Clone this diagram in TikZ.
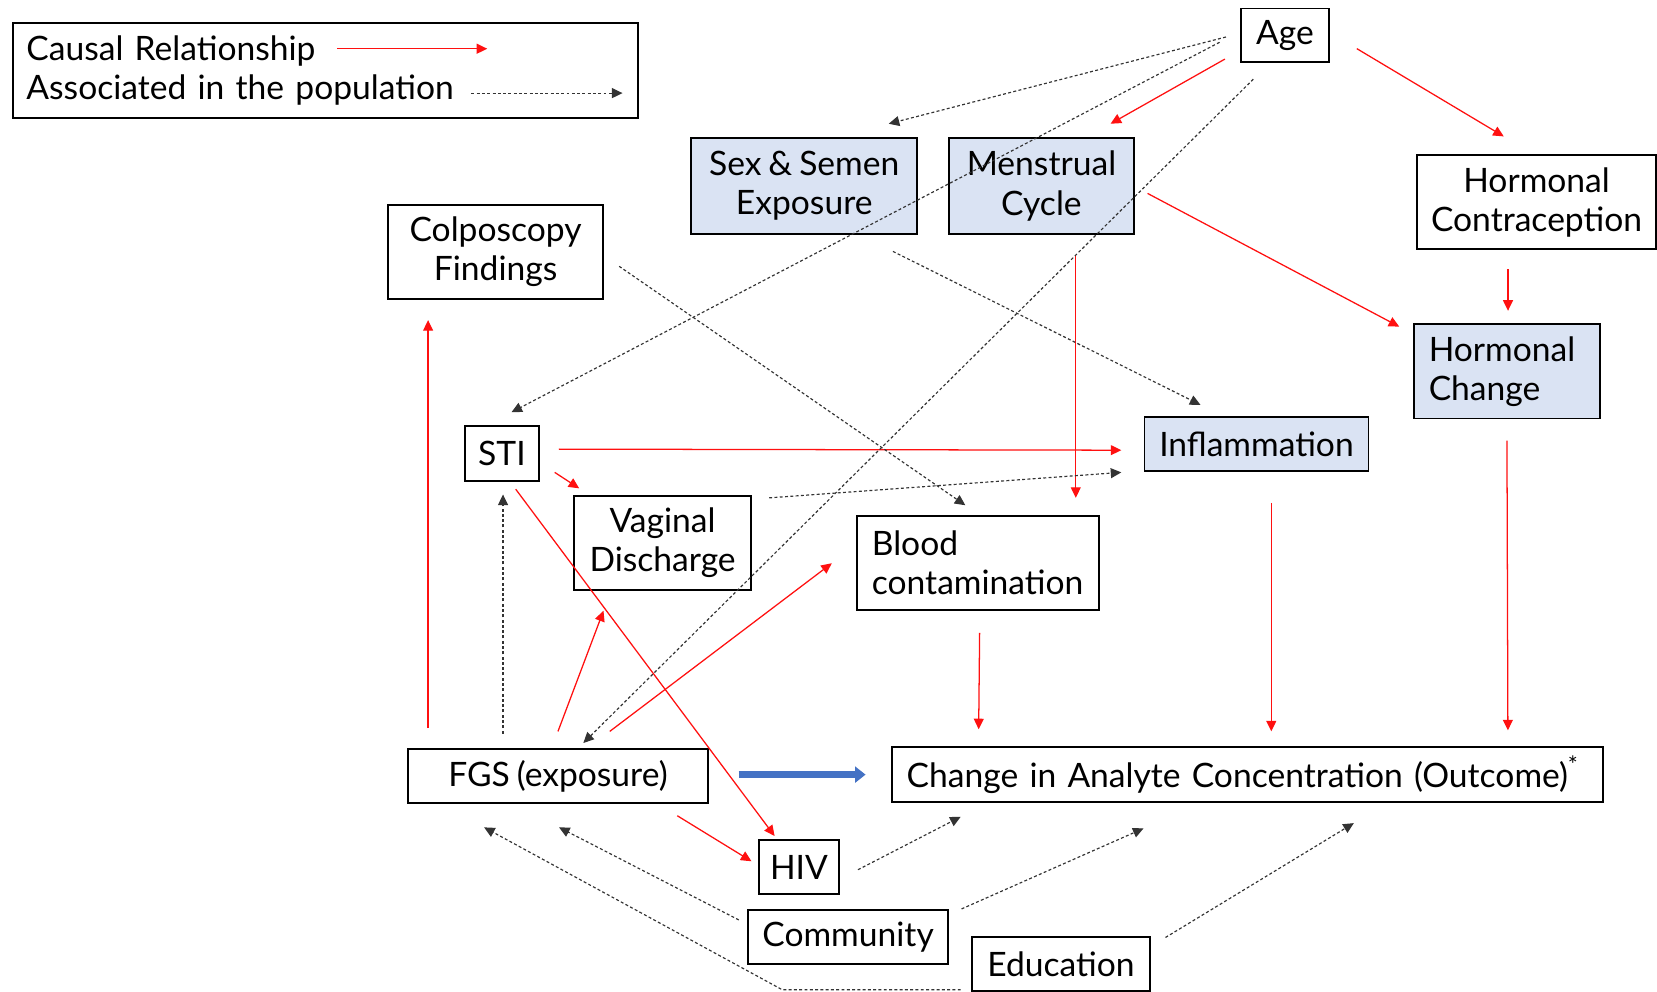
\documentclass[tikz,border=0pt]{standalone}
\usepackage{fontspec}
\setmainfont{Lato}[WordSpace=0.8]
\usetikzlibrary{arrows.meta}
\definecolor{boxblue}{HTML}{DAE3F3}
\definecolor{arrowblue}{HTML}{4472C4}
\definecolor{causalred}{HTML}{FF1010}
\tikzset{
  box/.style={draw=black, line width=0.9pt, inner sep=0pt, align=center,
    font=\fontsize{15.9}{18.5}\selectfont},
  bluebox/.style={box, fill=boxblue},
  causal/.style={draw=causalred, line width=0.6pt,
    -{Triangle[length=5pt,width=4.7pt]}, causalred},
  assoc/.style={draw=black!80, line width=0.55pt, dash pattern=on 1.4pt off 1.1pt,
    -{Triangle[length=5pt,width=4.7pt]}},
  mainarrow/.style={draw=arrowblue, line width=3pt,
    -{Triangle[length=5pt,width=7.5pt]}},
}
\begin{document}
\begin{tikzpicture}[x=0.5pt,y=-0.5pt]
\useasboundingbox (0,0) rectangle (1568,938);

% legend
\node[box, minimum width=296pt, minimum height=45pt, text width=283pt, align=left] (legend) at (308,67)
  {Causal Relationship\\Associated in the population};

% nodes
\node[box, minimum width=42pt, minimum height=25.5pt] (age) at (1216,33.5) {Age};
\node[bluebox, minimum width=107pt, minimum height=45pt] (sex) at (761,176) {Sex \& Semen\\Exposure};
\node[bluebox, minimum width=87.5pt, minimum height=45pt] (mens) at (985.5,176) {Menstrual\\Cycle};
\node[box, minimum width=113pt, minimum height=44.5pt] (hc) at (1454,191.5) {Hormonal\\Contraception};
\node[box, minimum width=102pt, minimum height=44.5pt] (colpo) at (469,238.5) {Colposcopy\\Findings};
\node[bluebox, minimum width=88pt, minimum height=44.5pt, text width=74pt, align=left] (hchange) at (1426,351.5) {Hormonal\\Change};
\node[box, minimum width=35pt, minimum height=26pt] (sti) at (475,429) {STI};
\node[bluebox, minimum width=106pt, minimum height=25.5pt] (infl) at (1189,420.5) {Inflammation};
\node[box, minimum width=84pt, minimum height=44.5pt] (vd) at (627,513.5) {Vaginal\\Discharge};
\node[box, minimum width=114.5pt, minimum height=44.5pt, text width=100.5pt, align=left] (blood) at (925.5,532.5) {Blood\\contamination};
\node[box, minimum width=142pt, minimum height=25.5pt] (fgs) at (528,734.5) {FGS (exposure)};
\node[box, minimum width=336.5pt, minimum height=26pt, text width=322.5pt, align=left] (out) at (1180.5,733) {Change in Analyte Concentration (Outcome)\textsuperscript{*}};
\node[box, minimum width=38pt, minimum height=25.5pt] (hiv) at (756,820.5) {HIV};
\node[box, minimum width=94.5pt, minimum height=25.5pt] (comm) at (802.5,886.5) {Community};
\node[box, minimum width=84pt, minimum height=25.5pt] (edu) at (1004,912.5) {Education};

% legend arrows
\draw[causal] ([shift={(308,25)}]legend.north west) -- ([shift={(450,25)}]legend.north west);
\draw[assoc] ([shift={(435,67)}]legend.north west) -- ([shift={(578,67)}]legend.north west);

% causal (red) arrows
\draw[causal] ([shift={(-14,-4)}]age.south west) -- ([shift={(-23,-13)}]mens.north east);
\draw[causal] ([shift={(25,12.5)}]age.east) -- ([shift={(-31,-17)}]hc.north);
\draw[causal] ([shift={(12,7)}]mens.east) -- ([shift={(-13,3)}]hchange.north west);
\draw[causal] ([shift={(-27,18)}]hc.south) -- ([shift={(1,-12)}]hchange.north);
\draw[causal] ([shift={(32.5,19)}]mens.south) -- ([shift={(92.5,-16)}]blood.north);
\draw[causal] ([shift={(0,20)}]hchange.south) -- ([shift={(-91,-15)}]out.north east);
\draw[causal] ([shift={(14,29)}]infl.south) -- ([shift={(22.5,-14)}]out.north);
\draw[causal] ([shift={(1.5,21)}]blood.south) -- ([shift={(83,-16)}]out.north west);
\draw[causal] ([shift={(18,-4)}]sti.east) -- ([shift={(-21,5.5)}]infl.west);
\draw[causal] ([shift={(14,18)}]sti.east) -- ([shift={(6,-6)}]vd.north west);
\draw[causal] ([shift={(13,7)}]sti.south) -- ([shift={(-23,-3)}]hiv.north);
\draw[causal] ([shift={(20,-19)}]fgs.north west) -- ([shift={(39,19)}]colpo.south west);
\draw[causal] ([shift={(0,-16)}]fgs.north) -- ([shift={(29,19)}]vd.south west);
\draw[causal] ([shift={(49,-16)}]fgs.north) -- ([shift={(-23,0.5)}]blood.west);
\draw[causal] ([shift={(-30,11)}]fgs.south east) -- ([shift={(-6,-5.5)}]hiv.west);

% main effect
\draw[mainarrow] ([shift={(28,-1.5)}]fgs.east) -- ([shift={(-24,0)}]out.west);

% associations (dotted)
\draw[assoc] ([shift={(-13,1.5)}]age.west) -- ([shift={(80,-13)}]sex.north);
\draw[assoc] ([shift={(-19,6.5)}]age.west) -- ([shift={(9,-12)}]sti.north);
\draw[assoc] ([shift={(-30,15)}]age.south) -- ([shift={(24,-5)}]fgs.north);
\draw[assoc] ([shift={(84,16)}]sex.south) -- ([shift={(-53,-11)}]infl.north);
\draw[assoc] ([shift={(14,13.5)}]colpo.east) -- ([shift={(-12,-9)}]blood.north);
\draw[assoc] ([shift={(16,3)}]vd.north east) -- ([shift={(-21,26.5)}]infl.west);
\draw[assoc] ([shift={(-52,-14)}]fgs.north) -- ([shift={(1,12)}]sti.south);
\draw[assoc] ([shift={(17,2.5)}]hiv.east) -- ([shift={(66,13)}]out.south west);
\draw[assoc] ([shift={(12,0)}]comm.north east) -- ([shift={(239,24)}]out.south west);
\draw[assoc] ([shift={(14,1)}]edu.north east) -- ([shift={(438,19)}]out.south west);
\draw[assoc] ([shift={(-8,-16)}]comm.west) -- ([shift={(1,22)}]fgs.south);
\draw[assoc] ([shift={(-10,24)}]edu.west) -- ++(-169,0) -- ([shift={(73,22)}]fgs.south west);
\end{tikzpicture}
\end{document}
